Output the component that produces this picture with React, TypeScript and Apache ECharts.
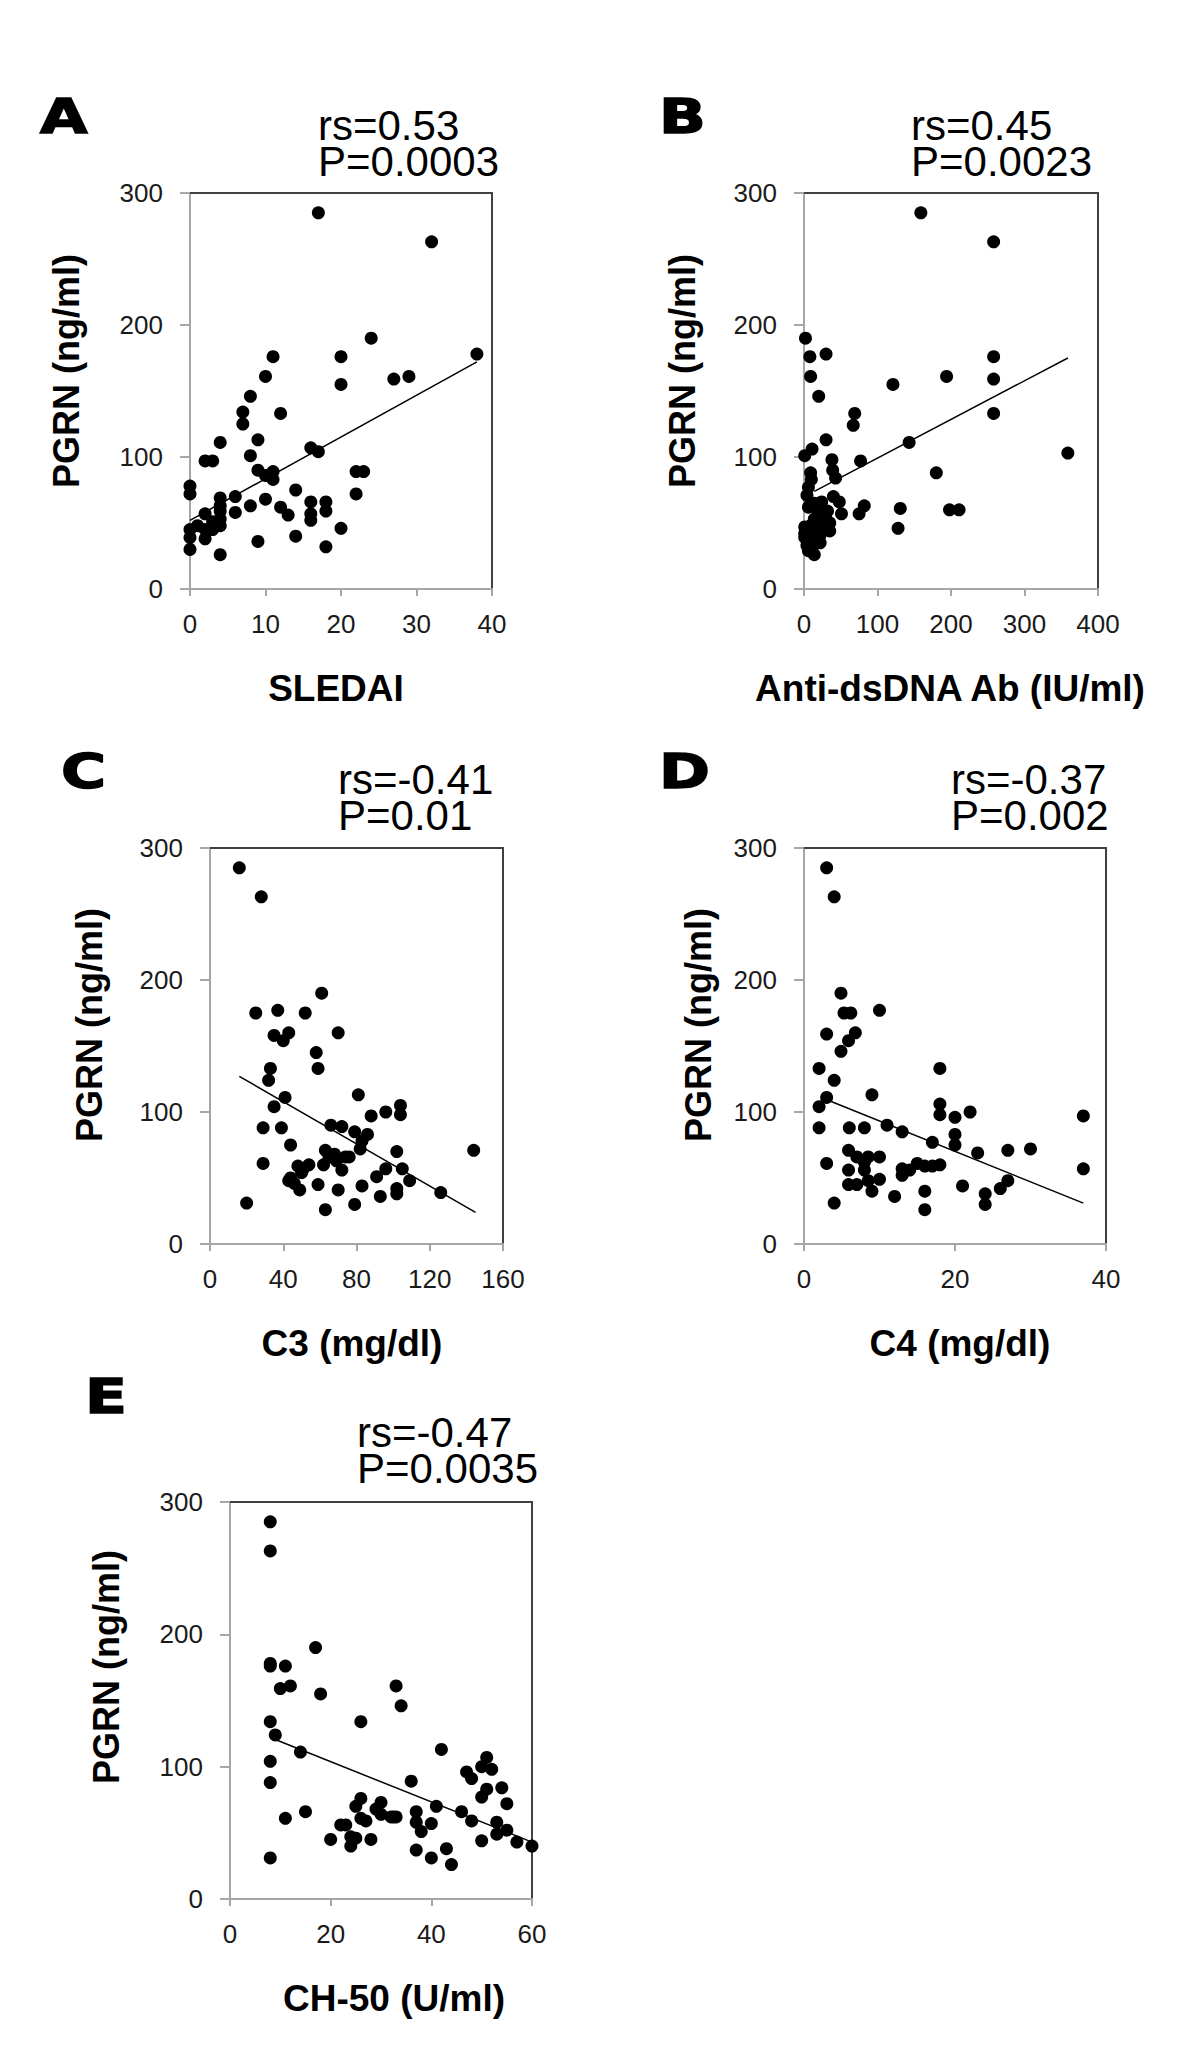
import React, { useEffect, useRef } from "react";
import * as echarts from "echarts";

// ---------- data ----------
const panelLetters = ["A", "B", "C", "D", "E"];
const xTitles = ["SLEDAI", "Anti-dsDNA Ab (IU/ml)", "C3 (mg/dl)", "C4 (mg/dl)", "CH-50 (U/ml)"];
const yTitle = "PGRN (ng/ml)";
const rsLabels = ["rs=0.53", "rs=0.45", "rs=-0.41", "rs=-0.37", "rs=-0.47"];
const pLabels = ["P=0.0003", "P=0.0023", "P=0.01", "P=0.002", "P=0.0035"];
const xMaxes = [40, 400, 160, 40, 60];
const xIntervals = [10, 100, 40, 20, 20];
const yMax = 300;
const yInterval = 100;

const pointsA = [
  [17, 285], [32, 263], [38, 178], [24, 190], [20, 176], [20, 155], [27, 159], [29, 161],
  [11, 176], [10, 161], [12, 133], [8, 146], [7, 134], [7, 125], [9, 113], [4, 111],
  [8, 101], [2, 97], [3, 97], [16, 107], [17, 104], [9, 90], [10, 86], [11, 89],
  [11, 83], [22, 89], [23, 89], [0, 78], [0, 72], [4, 69], [6, 70], [10, 68],
  [14, 75], [16, 66], [18, 66], [22, 72], [4, 63], [8, 63], [12, 62], [13, 56],
  [6, 58], [18, 59], [16, 57], [16, 52], [2, 57], [3, 51], [4, 53], [4, 48],
  [2, 45], [3, 45], [0, 45], [0, 39], [2, 38], [0, 30], [4, 26], [9, 36],
  [14, 40], [18, 32], [20, 46], [1, 48], [4, 59],
];
const pointsB = [
  [159, 285], [258, 263], [258, 176], [258, 159], [258, 133], [194, 161], [121, 155], [143, 111],
  [359, 103], [180, 88], [131, 61], [198, 60], [211, 60], [128, 46], [69, 133], [67, 124],
  [77, 97], [82, 63], [75, 57], [2, 190], [8, 176], [30, 178], [9, 161], [20, 146],
  [30, 113], [1, 101], [11, 106], [38, 98], [39, 90], [43, 84], [9, 88], [10, 83],
  [6, 77], [4, 71], [40, 70], [48, 66], [51, 57], [14, 65], [24, 66], [6, 62],
  [19, 59], [32, 59], [14, 53], [30, 53], [1, 47], [6, 44], [35, 44], [22, 41],
  [1, 39], [9, 38], [4, 33], [11, 32], [14, 26], [6, 29], [24, 47], [17, 47],
  [30, 48], [1, 42], [9, 48], [22, 35], [35, 50],
];
const pointsC = [
  [16, 285], [28, 263], [25, 175], [37, 177], [52, 175], [61, 190], [70, 160], [35, 158],
  [40, 154], [43, 160], [58, 145], [59, 133], [33, 133], [32, 124], [41, 111], [35, 104],
  [29, 88], [39, 88], [81, 113], [88, 97], [96, 100], [104, 105], [104, 98], [66, 90],
  [72, 89], [79, 85], [86, 83], [83, 78], [82, 72], [44, 75], [29, 61], [102, 70],
  [144, 71], [63, 71], [68, 68], [74, 66], [76, 66], [62, 60], [65, 66], [69, 63],
  [72, 56], [48, 59], [51, 57], [54, 60], [50, 54], [44, 50], [46, 46], [49, 41],
  [59, 45], [70, 41], [91, 51], [96, 57], [105, 57], [109, 48], [102, 42], [102, 38],
  [83, 44], [93, 36], [79, 30], [63, 26], [20, 31], [126, 39], [43, 48],
];
const pointsD = [
  [3, 285], [4, 263], [4.9, 190], [5.3, 175], [6.2, 175], [10, 177], [3, 159], [5.9, 154],
  [6.8, 160], [4.9, 146], [2, 133], [18, 133], [4, 124], [3, 111], [9, 113], [2, 104],
  [18, 106], [18, 98], [20, 96], [22, 100], [37, 97], [2, 88], [6, 88], [8, 88],
  [11, 90], [13, 85], [20, 83], [20, 75], [17, 77], [23, 69], [27, 71], [30, 72],
  [5.9, 71], [7, 66], [8.5, 66], [10, 66], [3, 61], [5.9, 56], [8, 56], [8, 62],
  [13, 57], [13, 52], [14, 56], [15, 61], [16, 59], [17, 59], [18, 60], [10, 49],
  [5.9, 45], [7, 45], [9, 40], [12, 36], [16, 40], [16, 26], [4, 31], [21, 44],
  [24, 38], [24, 30], [26, 42], [27, 48], [37, 57], [8.5, 48],
];
const pointsE = [
  [8, 285], [8, 263], [8, 178], [8, 176], [11, 176], [10, 159], [12, 161], [17, 190],
  [18, 155], [33, 161], [34, 146], [26, 134], [8, 134], [9, 124], [14, 111], [8, 104],
  [8, 88], [42, 113], [11, 61], [15, 66], [20, 45], [22, 56], [23, 56], [24, 47],
  [25, 46], [24, 40], [25, 70], [26, 76], [26, 61], [27, 59], [28, 45], [29, 68],
  [30, 73], [30, 64], [32, 62], [33, 62], [36, 89], [37, 66], [37, 58], [38, 51],
  [37, 37], [40, 57], [41, 70], [40, 31], [43, 38], [44, 26], [46, 66], [47, 96],
  [48, 91], [48, 59], [50, 44], [50, 77], [51, 83], [50, 100], [51, 107], [52, 98],
  [54, 84], [55, 72], [53, 58], [53, 49], [55, 52], [57, 43], [60, 40], [8, 31],
  [32.5, 62],
];
const trendA = [[0, 52], [38, 172]];
const trendB = [[14, 74], [359, 175]];
const trendC = [[16, 127], [145, 24]];
const trendD = [[3.6, 108], [37, 31]];
const trendE = [[8, 122], [60, 43]];

const allPoints = [pointsA, pointsB, pointsC, pointsD, pointsE];
const allTrends = [trendA, trendB, trendC, trendD, trendE];

// ---------- layout ----------
const grids = [
  { left: 190, top: 193, width: 302, height: 396 },
  { left: 804, top: 193, width: 294, height: 396 },
  { left: 210, top: 848, width: 293, height: 396 },
  { left: 804, top: 848, width: 302, height: 396 },
  { left: 230, top: 1502, width: 302, height: 397 },
];
const letterPos = [[40, 116], [659, 116], [61, 771], [659, 771], [85, 1396]];
const statPos = [[318, 143], [911, 143], [338, 797], [951, 797], [357, 1450]];
const yTitlePos = [[66, 371], [682, 371], [89, 1025], [698, 1025], [106, 1667]];
const xTitlePos = [[336, 688], [950, 688], [352, 1343], [960, 1343], [394, 1998]];

const FONT = "'Liberation Sans', Arial, Helvetica, sans-serif";
const AXIS_GRAY = "#a6a6a6";
const BORDER = "#404040";

export default function App() {
  const ref = useRef<HTMLDivElement>(null);

  useEffect(() => {
    document.body.style.margin = "0";
    if (!ref.current) return;
    const chart = echarts.init(ref.current, undefined, { renderer: "svg" });

    const xAxes: any[] = [];
    const yAxes: any[] = [];
    const series: any[] = [];
    const graphics: any[] = [];

    grids.forEach((_, i) => {
      xAxes.push({
        type: "value",
        gridIndex: i,
        min: 0,
        max: xMaxes[i],
        interval: xIntervals[i],
        position: "bottom",
        axisLine: { show: true, onZero: false, lineStyle: { color: AXIS_GRAY, width: 2 } },
        axisTick: { show: true, length: 7, lineStyle: { color: AXIS_GRAY, width: 2 } },
        axisLabel: { fontSize: 26, color: "#1a1a1a", margin: 22, fontFamily: FONT },
        splitLine: { show: false },
      });
      yAxes.push({
        type: "value",
        gridIndex: i,
        min: 0,
        max: yMax,
        interval: yInterval,
        position: "left",
        axisLine: { show: true, onZero: false, lineStyle: { color: AXIS_GRAY, width: 2 } },
        axisTick: { show: true, length: 10, lineStyle: { color: AXIS_GRAY, width: 2 } },
        axisLabel: { fontSize: 26, color: "#1a1a1a", margin: 27, fontFamily: FONT },
        splitLine: { show: false },
      });
    });
    grids.forEach((_, i) => {
      xAxes.push({
        type: "value",
        gridIndex: i,
        min: 0,
        max: xMaxes[i],
        position: "top",
        axisLine: { show: true, onZero: false, lineStyle: { color: BORDER, width: 2 } },
        axisTick: { show: false },
        axisLabel: { show: false },
        splitLine: { show: false },
      });
      yAxes.push({
        type: "value",
        gridIndex: i,
        min: 0,
        max: yMax,
        position: "right",
        axisLine: { show: true, onZero: false, lineStyle: { color: BORDER, width: 2 } },
        axisTick: { show: false },
        axisLabel: { show: false },
        splitLine: { show: false },
      });
    });

    allPoints.forEach((pts, i) => {
      series.push({
        type: "line",
        xAxisIndex: i,
        yAxisIndex: i,
        data: allTrends[i],
        symbol: "none",
        lineStyle: { color: "#000", width: 1.5 },
        z: 3,
      });
      series.push({
        type: "scatter",
        xAxisIndex: i,
        yAxisIndex: i,
        data: pts,
        symbol: "circle",
        symbolSize: 13,
        itemStyle: { color: "#000", opacity: 1 },
        z: 4,
      });
    });

    const txt = (x: number, y: number, text: string, font: string, align: string, extra: any = {}, styleExtra: any = {}) => ({
      type: "text",
      x,
      y,
      ...extra,
      style: {
        text,
        font,
        fill: "#000",
        textAlign: align,
        align,
        textVerticalAlign: "middle",
        verticalAlign: "middle",
        ...styleExtra,
      },
    });

    panelLetters.forEach((L, i) => {
      graphics.push(
        txt(letterPos[i][0], letterPos[i][1], L, `bold 48px 'DejaVu Sans', ${FONT}`, "left", { scaleX: 1.28 }, {
          stroke: "#000",
          lineWidth: 1.5,
        })
      );
      graphics.push(
        txt(statPos[i][0], statPos[i][1], rsLabels[i] + "\n" + pLabels[i], `42px ${FONT}`, "left", {}, { lineHeight: 36 })
      );
      graphics.push(
        txt(yTitlePos[i][0], yTitlePos[i][1], yTitle, `bold 36px ${FONT}`, "center", { rotation: Math.PI / 2 })
      );
      graphics.push(txt(xTitlePos[i][0], xTitlePos[i][1], xTitles[i], `bold 37px ${FONT}`, "center"));
    });

    chart.setOption({
      animation: false,
      backgroundColor: "#ffffff",
      grid: grids.map((g) => ({ ...g, containLabel: false })),
      xAxis: xAxes,
      yAxis: yAxes,
      series,
      graphic: { elements: graphics },
    });

    return () => chart.dispose();
  }, []);

  return <div ref={ref} style={{ width: 1200, height: 2070 }} />;
}
